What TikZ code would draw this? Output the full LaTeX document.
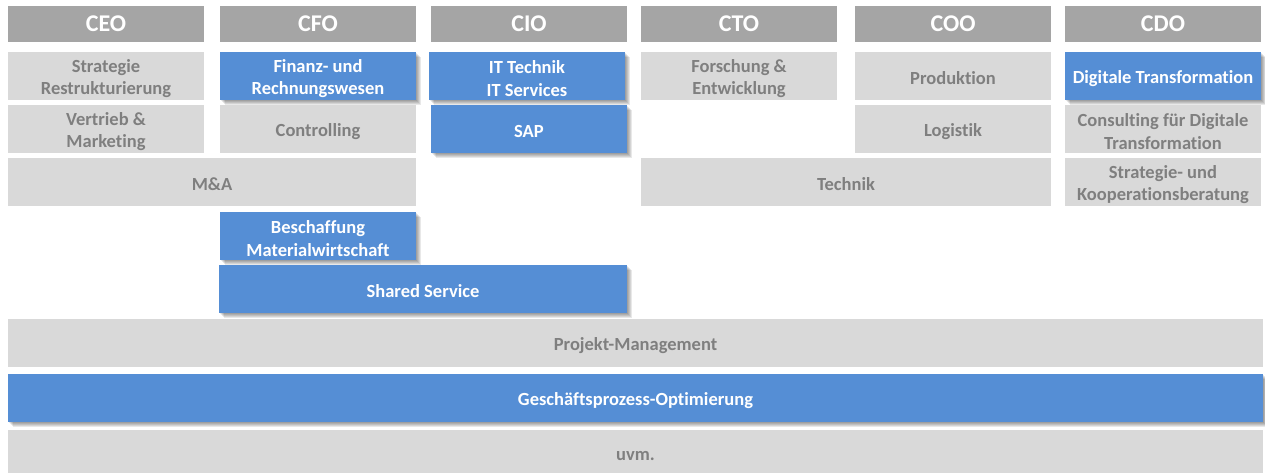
\documentclass[tikz,border=0pt]{standalone}
\usepackage{fontspec}
\setmainfont{Carlito}[Ligatures=NoCommon]
\definecolor{hdr}{HTML}{A5A5A5}
\definecolor{lg}{HTML}{D9D9D9}
\definecolor{tg}{HTML}{7F7F7F}
\definecolor{bl}{HTML}{558ED5}
\tikzset{
  base/.style={anchor=north west, inner sep=0pt, outer sep=0pt},
  txt/.style={inner sep=0pt, align=center, yshift=-2.5pt, font=\bfseries\fontsize{18.5}{22.5}\selectfont},
  hbox/.style={base, fill=hdr},
  htxt/.style={inner sep=0pt, align=center, text=white, font=\bfseries\fontsize{24}{28}\selectfont},
  gbox/.style={base, fill=lg},
  gtxt/.style={txt, text=tg},
  shd/.style={preaction={fill=black, opacity=0.09, transform canvas={shift={(#1pt,-#1pt)}}}},
  bbox/.style={base, fill=bl, shd=1, shd=2, shd=3, shd=4, shd=5},
  btxt/.style={txt, text=white},
}
\newcommand{\bx}[8]{% boxstyle, textstyle, name, x1, y1, x2, y2, text
  \node[#1, minimum width={(#6-#4)*1pt}, minimum height={(#7-#5)*1pt}] (#3) at (#4,#5) {};
  \node[#2] (#3t) at (#3.center) {#8};}
\begin{document}
\begin{tikzpicture}[x=1pt,y=-1pt]
\useasboundingbox (0,0) rectangle (1265,473);
\begin{scope}
\clip (0,0) rectangle (1265,473);
% headers
\bx{hbox}{htxt}{ceo}{8}{6}{204}{42}{CEO}
\bx{hbox}{htxt}{cfo}{220}{6}{416}{42}{CFO}
\bx{hbox}{htxt}{cio}{431}{6}{627}{42}{CIO}
\bx{hbox}{htxt}{cto}{641}{6}{837}{42}{CTO}
\bx{hbox}{htxt}{coo}{855}{6}{1051}{42}{COO}
\bx{hbox}{htxt}{cdo}{1065}{6}{1261}{42}{CDO}
% CEO
\bx{gbox}{gtxt}{strat}{8}{52}{204}{100}{Strategie\\Restrukturierung}
\bx{gbox}{gtxt}{vert}{8}{105}{204}{153}{Vertrieb \&\\Marketing}
\bx{gbox}{gtxt}{ma}{8}{158}{416}{206}{M\&A}
% CFO
\bx{gbox}{gtxt}{contr}{220}{105}{416}{153}{Controlling}
% CTO / COO
\bx{gbox}{gtxt}{forsch}{641}{52}{837}{100}{Forschung \&\\Entwicklung}
\bx{gbox}{gtxt}{prod}{855}{52}{1051}{100}{Produktion}
\bx{gbox}{gtxt}{logi}{855}{105}{1051}{153}{Logistik}
\bx{gbox}{gtxt}{tech}{641}{158}{1051}{206}{Technik}
% CDO
\bx{gbox}{gtxt}{cons}{1065}{105}{1261}{153}{Consulting für Digitale\\Transformation}
\bx{gbox}{gtxt}{koop}{1065}{158}{1261}{206}{Strategie- und\\Kooperationsberatung}
% bottom
\bx{gbox}{gtxt}{pm}{8}{319}{1263}{367}{Projekt-Management}
\bx{gbox}{gtxt}{uvm}{8}{430}{1263}{478}{uvm.}
% blue
\bx{bbox}{btxt}{fin}{220}{52}{416}{100}{Finanz- und\\Rechnungswesen}
\bx{bbox}{btxt}{it}{429}{52}{625}{100}{IT Technik\\IT Services}
\bx{bbox}{btxt}{sap}{431}{105}{627}{153}{SAP}
\bx{bbox}{btxt}{dig}{1065}{52}{1261}{100}{Digitale Transformation}
\bx{bbox}{btxt}{besch}{220}{212}{416}{260}{Beschaffung\\Materialwirtschaft}
\bx{bbox}{btxt}{shared}{219}{265}{627}{313}{Shared Service}
\bx{bbox}{btxt}{gpo}{8}{374}{1263}{422}{Geschäftsprozess-Optimierung}
\end{scope}
\end{tikzpicture}
\end{document}
